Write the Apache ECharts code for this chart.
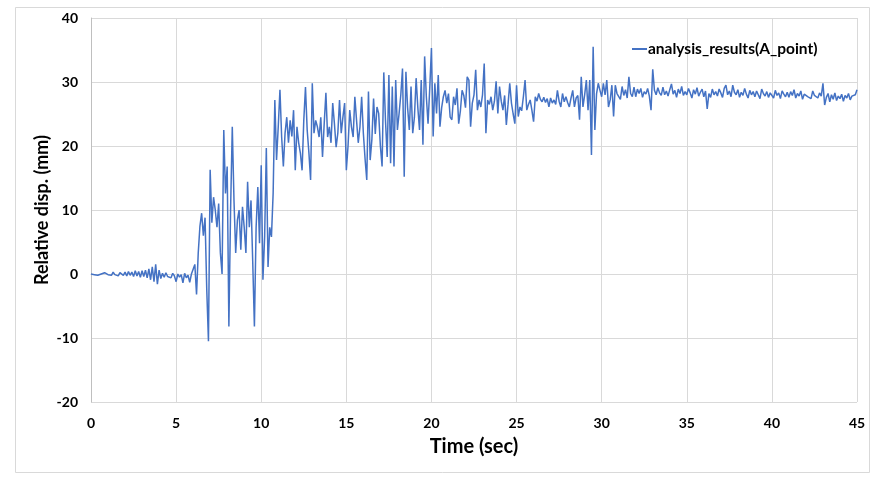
<!DOCTYPE html>
<html>
<head>
<meta charset="utf-8">
<script src="https://cdn.jsdelivr.net/npm/echarts@6/dist/echarts.min.js"></script>
<style>
html,body{margin:0;padding:0;background:#fff;}
#chart{width:882px;height:477px;}
</style>
</head>
<body>
<div id="chart"></div>
<script>
// Sampling step of the record (seconds)
var sampleStep = 0.1;
var seriesName = 'analysis_results(A_point)';
var xTicks = [0, 5, 10, 15, 20, 25, 30, 35, 40, 45];
var yTicks = [-20, -10, 0, 10, 20, 30, 40];

// Relative displacement (mm), t = 0.0 ... 5.9 s
var disp0to6 = [
  0.0, 0.1, -0.1, 0.2, -0.2, 0.1, 0.0, -0.2, 0.2, 0.1,
  -0.1, 0.2, -0.2, 0.3, -0.1, 0.1, -0.3, 0.2, 0.0, -0.2,
  0.3, -0.3, 0.4, -0.2, 0.3, -0.4, 0.5, -0.3, 0.4, -0.5,
  0.5, -0.4, 0.6, -0.6, 0.8, -0.9, 1.1, -1.2, 1.5, -1.6,
  0.6, -0.7, 0.1, -0.5, 0.2, -0.4, -0.1, -0.6, 0.1, -0.3,
  -1.2, 0.0, -0.5, -0.1, -1.4, 0.1, -0.6, -0.2, -1.3, 0.0
];
// t = 6.0 ... 10.9 s
var disp6to11 = [
  -0.3, 1.5, -3.2, 3.3, 7.5, 9.5, 6.0, 8.8, -2.4, -10.5,
  16.3, 8.0, 12.0, 10.0, 7.3, 11.0, 3.3, 0.0, 22.5, 12.6,
  16.8, -8.2, 10.0, 23.0, 11.5, 3.3, 8.4, 10.0, 3.8, 10.5,
  7.3, 3.3, 14.4, 7.3, 11.5, 2.0, -8.2, 7.3, 13.6, 4.8,
  17.0, -0.9, 5.8, 19.7, 1.1, 7.3, 5.8, 12.6, 27.2, 17.8
];
// t = 11.0 ... 20.9 s
var disp11to21 = [
  23.0, 28.8, 21.4, 16.8, 22.0, 24.5, 20.5, 24.0, 21.5, 25.6,
  16.2, 23.0, 20.5, 18.9, 16.2, 24.0, 29.2, 22.5, 19.0, 14.7,
  29.8, 22.0, 24.0, 23.0, 21.4, 24.5, 18.3, 23.5, 28.3, 21.4,
  23.0, 20.5, 26.7, 23.5, 19.8, 22.0, 27.2, 22.0, 24.5, 26.7,
  16.2, 20.0, 25.6, 23.0, 21.4, 27.7, 24.0, 20.5, 23.0, 27.7,
  22.0, 18.0, 14.7, 28.5, 17.8, 21.0, 27.4, 21.9, 26.1, 25.1,
  20.0, 16.8, 31.5, 24.0, 18.3, 31.1, 17.3, 29.3, 16.8, 30.3,
  22.5, 25.1, 28.0, 32.1, 15.2, 31.6, 26.0, 22.5, 29.3, 22.0,
  24.5, 30.6, 26.0, 22.5, 30.3, 20.2, 34.0, 27.7, 23.5, 29.0,
  35.3, 21.5, 29.8, 25.1, 31.1, 23.0, 26.0, 27.7, 28.7, 26.7
];
// t = 21.0 ... 30.9 s
var disp21to31 = [
  28.2, 24.5, 24.1, 27.7, 26.4, 29.0, 23.5, 25.5, 28.7, 27.9,
  26.0, 30.8, 30.3, 23.0, 26.7, 28.0, 31.9, 25.6, 27.2, 26.1,
  28.0, 32.9, 22.0, 27.2, 26.5, 27.7, 25.6, 27.0, 30.1, 25.1,
  29.3, 27.0, 25.6, 27.9, 23.3, 26.5, 29.8, 26.7, 25.0, 23.5,
  29.5, 24.6, 26.1, 25.5, 27.7, 30.3, 25.6, 26.5, 27.2, 25.6,
  23.8, 27.7, 27.0, 28.2, 27.3, 26.9, 27.6, 26.8, 27.4, 26.1,
  27.5, 26.7, 27.2, 26.5, 28.7, 27.0, 26.1, 28.2, 26.9, 27.7,
  26.8, 26.1, 27.5, 28.7, 26.1, 27.5, 27.9, 24.1, 30.8, 26.1,
  28.0, 30.3, 25.6, 30.3, 18.6, 35.5, 22.5, 28.2, 29.8, 28.7,
  27.7, 29.8, 28.0, 30.3, 26.1, 27.2, 29.5, 24.6, 29.5, 28.2
];
// t = 31.0 ... 45.0 s
var disp31to45 = [
  28.5, 27.3, 29.3, 27.9, 28.8, 27.5, 30.8, 28.2, 27.7, 29.2,
  27.7, 28.9, 28.2, 29.0, 27.6, 28.5, 28.1, 29.0, 27.8, 25.6,
  32.0, 28.7, 28.0, 29.1, 28.3, 27.9, 29.2, 28.0, 28.6, 27.8,
  28.8, 29.7, 28.1, 28.7, 27.6, 28.9, 28.2, 29.3, 27.9, 28.5,
  28.0, 29.0, 28.3, 27.5, 28.8, 28.1, 29.1, 27.8, 28.4, 28.9,
  27.7, 28.6, 25.8, 28.2, 27.6, 28.9, 28.0, 28.5, 27.8, 28.9,
  28.3, 27.6, 29.0, 29.5, 28.0, 28.6, 27.7, 29.5, 28.4, 28.0,
  28.8, 27.6, 28.4, 27.9, 29.0, 28.1, 27.5, 28.7, 28.0, 28.5,
  27.7, 28.6, 28.0, 27.4, 28.9, 28.2, 27.8, 28.5, 27.6, 28.3,
  28.0, 27.5, 28.7, 27.9, 28.3, 27.4, 28.6, 28.1, 27.7, 28.4,
  27.6, 28.5, 27.9, 28.8, 27.5, 28.2, 27.8, 28.6, 27.3, 28.1,
  28.4, 27.7, 28.0, 27.4, 28.6, 27.9, 28.2, 27.5, 28.3, 27.8,
  29.8, 26.4, 27.6, 28.2, 26.9, 28.0, 27.3, 28.3, 27.1, 27.8,
  27.4, 28.1, 27.0, 27.9, 27.5, 28.2, 27.2, 27.8, 27.5, 28.0,
  28.8
];

var disp = disp0to6.concat(disp6to11, disp11to21, disp21to31, disp31to45);
var seriesData = disp.map(function (v, i) {
  return [Math.round(i * sampleStep * 10) / 10, v];
});

var font = 'Lato, "Open Sans", "Liberation Sans", sans-serif';
var chart = echarts.init(document.getElementById('chart'), null, {renderer: 'canvas'});
chart.setOption({
  animation: false,
  backgroundColor: '#ffffff',
  graphic: [{
    type: 'rect',
    shape: {x: 15.5, y: 7.5, width: 854, height: 465},
    style: {fill: 'none', stroke: '#d9d9d9', lineWidth: 1},
    silent: true,
    z: -1
  }],
  grid: {left: 91, right: 25, top: 18, bottom: 75, containLabel: false},
  legend: {
    show: true,
    left: 627,
    top: 36,
    itemWidth: 15,
    itemHeight: 2,
    itemGap: 2,
    icon: 'rect',
    data: [seriesName],
    textStyle: {fontFamily: font, fontSize: 15.5, fontWeight: 'bold', color: '#000', padding: [0, 0, 0, -4]}
  },
  xAxis: {
    type: 'value',
    min: xTicks[0],
    max: xTicks[xTicks.length - 1],
    interval: 5,
    name: 'Time (sec)',
    nameLocation: 'middle',
    nameGap: 35,
    nameMoveOverlap: false,
    nameTextStyle: {fontFamily: font, fontSize: 20, fontWeight: 'bold', color: '#000'},
    axisLine: {show: true, lineStyle: {color: '#d9d9d9'}},
    axisTick: {show: false},
    axisLabel: {fontFamily: font, fontSize: 14, fontWeight: 'bold', color: '#000', margin: 14},
    splitLine: {show: true, lineStyle: {color: '#d9d9d9', width: 1}}
  },
  yAxis: {
    type: 'value',
    min: yTicks[0],
    max: yTicks[yTicks.length - 1],
    interval: 10,
    name: 'Relative disp. (mm)',
    nameLocation: 'middle',
    nameGap: 40,
    nameMoveOverlap: false,
    nameTextStyle: {fontFamily: font, fontSize: 18, fontWeight: 'bold', color: '#000'},
    axisLine: {show: true, lineStyle: {color: '#bfbfbf'}},
    axisTick: {show: false},
    axisLabel: {fontFamily: font, fontSize: 14, fontWeight: 'bold', color: '#000', margin: 13},
    splitLine: {show: true, lineStyle: {color: '#d9d9d9', width: 1}}
  },
  series: [{
    name: seriesName,
    type: 'line',
    data: seriesData,
    showSymbol: false,
    symbol: 'none',
    lineStyle: {color: '#4472c4', width: 1.5},
    itemStyle: {color: '#4472c4'}
  }]
});
</script>
</body>
</html>
